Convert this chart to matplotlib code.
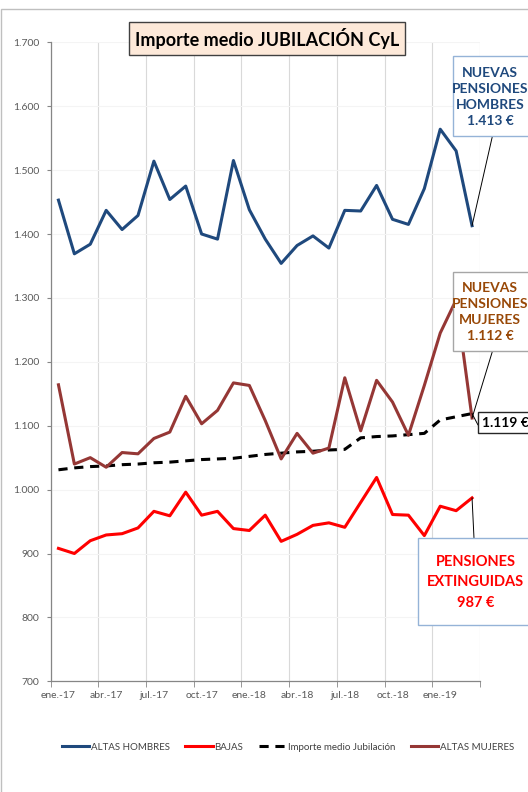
import numpy as np
import matplotlib
matplotlib.use("Agg")
import matplotlib.pyplot as plt
from matplotlib.patches import Rectangle
from matplotlib.ticker import FuncFormatter

plt.rcParams['font.family'] = ['Lato', 'DejaVu Sans']

meses = ['ene.-17', 'feb.-17', 'mar.-17', 'abr.-17', 'may.-17', 'jun.-17',
         'jul.-17', 'ago.-17', 'sep.-17', 'oct.-17', 'nov.-17', 'dic.-17',
         'ene.-18', 'feb.-18', 'mar.-18', 'abr.-18', 'may.-18', 'jun.-18',
         'jul.-18', 'ago.-18', 'sep.-18', 'oct.-18', 'nov.-18', 'dic.-18',
         'ene.-19', 'feb.-19', 'mar.-19']

altas_hombres = [1453, 1369, 1384, 1437, 1407, 1429, 1514, 1454, 1475, 1400, 1392, 1515,
                 1438, 1392, 1354, 1382, 1397, 1378, 1437, 1436, 1476, 1423, 1415, 1471,
                 1564, 1530, 1413]
bajas = [908, 900, 920, 929, 931, 940, 966, 959, 996, 960, 966, 939,
         936, 960, 919, 930, 944, 948, 941, 980, 1019, 961, 960, 928,
         974, 967, 987]
importe_medio = [1031, 1034, 1036, 1037, 1039, 1040, 1042, 1043, 1045, 1047, 1048, 1049,
                 1052, 1055, 1057, 1059, 1060, 1062, 1063, 1081, 1083, 1084, 1086, 1088,
                 1109, 1114, 1119]
altas_mujeres = [1164, 1040, 1050, 1035, 1058, 1056, 1080, 1090, 1146, 1103, 1124, 1167,
                 1163, 1108, 1048, 1088, 1057, 1065, 1175, 1092, 1171, 1137, 1085, 1163,
                 1245, 1297, 1112]

C_HOM = '#1f497d'
C_BAJ = '#ff0000'
C_MUJ = '#953735'
C_MUJ_TXT = '#984807'

W, H = 528, 792


def fx(x):
    return x / W


def fy(y):
    return 1 - y / H


fig = plt.figure(figsize=(W / 100, H / 100), dpi=100)
ax = fig.add_axes([fx(50.5), fy(681.3), fx(480) - fx(50.5), fy(42.3) - fy(681.3)])

x = np.arange(len(meses))
ax.plot(x, altas_hombres, color=C_HOM, lw=2.2, label='ALTAS HOMBRES', zorder=3)
ax.plot(x, bajas, color=C_BAJ, lw=2.2, label='BAJAS', zorder=3)
ax.plot(x, importe_medio, color='black', lw=2.2, ls=(0, (3, 2.2)),
        label='Importe medio Jubilación', zorder=3)
ax.plot(x, altas_mujeres, color=C_MUJ, lw=2.2, label='ALTAS MUJERES', zorder=3)

ax.set_xlim(-0.5, len(meses) - 0.5)
ax.set_ylim(700, 1700)
ax.set_yticks(range(700, 1701, 100))
ax.yaxis.set_major_formatter(FuncFormatter(lambda v, p: f'{v:,.0f}'.replace(',', '.')))
ax.set_xticks(x[::3])
ax.set_xticklabels(meses[::3])
ax.set_xticks(np.arange(-0.5, len(meses), 3), minor=True)

ax.tick_params(axis='y', labelsize=7.5, colors='#595959', length=3, color='#868686', pad=5)
ax.tick_params(axis='x', which='major', labelsize=7.5, colors='#595959', length=0, pad=7)
ax.tick_params(axis='x', which='minor', length=4, color='#868686')

ax.grid(which='minor', axis='x', color='#d9d9d9', lw=0.8)
ax.grid(which='major', axis='y', color='#f4f4f4', lw=0.8)
ax.set_axisbelow(True)
for s in ['top', 'right']:
    ax.spines[s].set_visible(False)
for s in ['left', 'bottom']:
    ax.spines[s].set_color('#868686')
    ax.spines[s].set_linewidth(0.9)

# marco exterior
fig.add_artist(Rectangle((fx(1), -0.1), 1.2, fy(9) + 0.1, transform=fig.transFigure,
                         fill=False, edgecolor='#bfbfbf', lw=1))

# titulo
fig.text(fx(267), fy(38.5), 'Importe medio JUBILACIÓN CyL', ha='center', va='center',
         fontsize=13, fontweight='bold', color='black',
         bbox=dict(boxstyle='square,pad=0.33', facecolor='#fde9d9', edgecolor='#404040', lw=1))


def caja(x0, y0, x1, y1, edge):
    fig.add_artist(Rectangle((fx(x0), fy(y1)), fx(x1) - fx(x0), fy(y0) - fy(y1),
                             transform=fig.transFigure, facecolor='white',
                             edgecolor=edge, lw=1, zorder=5))


def guia(xi, val, px, py):
    ax.annotate('', xy=(xi, val), xycoords='data', xytext=(fx(px), fy(py)),
                textcoords='figure fraction', annotation_clip=False,
                arrowprops=dict(arrowstyle='-', lw=0.7, color='black',
                                shrinkA=0, shrinkB=0))


last = len(meses) - 1

# hombres
guia(last, altas_hombres[-1], 492.5, 135.7)
caja(452.5, 55.7, 540, 135.7, '#95b3d7')
fig.text(fx(490), fy(97), 'NUEVAS\nPENSIONES\nHOMBRES\n1.413 €', ha='center', va='center',
         fontsize=10, fontweight='bold', color=C_HOM, linespacing=1.4, zorder=6)

# mujeres
guia(last, altas_mujeres[-1], 492.5, 351)
caja(452.5, 271.7, 540, 351, '#a6a6a6')
fig.text(fx(490), fy(312.5), 'NUEVAS\nPENSIONES\nMUJERES\n1.112 €', ha='center', va='center',
         fontsize=10, fontweight='bold', color=C_MUJ_TXT, linespacing=1.4, zorder=6)

# importe medio
guia(last, importe_medio[-1], 478, 425)
caja(478, 411.7, 540, 433.3, '#262626')
fig.text(fx(482), fy(422.7), '1.119 €', ha='left', va='center',
         fontsize=10, fontweight='bold', color='black', zorder=6)

# bajas
guia(last, bajas[-1], 474, 538.3)
caja(417.8, 538.3, 540, 625, '#95b3d7')
fig.text(fx(475.5), fy(582.5), 'PENSIONES\nEXTINGUIDAS\n987 €', ha='center', va='center',
         fontsize=10.5, fontweight='bold', color=C_BAJ, linespacing=1.55, zorder=6)

handles, labels = ax.get_legend_handles_labels()
leg = fig.legend(handles, labels, loc='center', bbox_to_anchor=(fx(288), fy(747)), ncol=4,
                 frameon=False, fontsize=7, handlelength=2.8, handletextpad=0.2,
                 columnspacing=1.6)
for t in leg.get_texts():
    t.set_color('#404040')

fig.savefig('out.png', dpi=100)
